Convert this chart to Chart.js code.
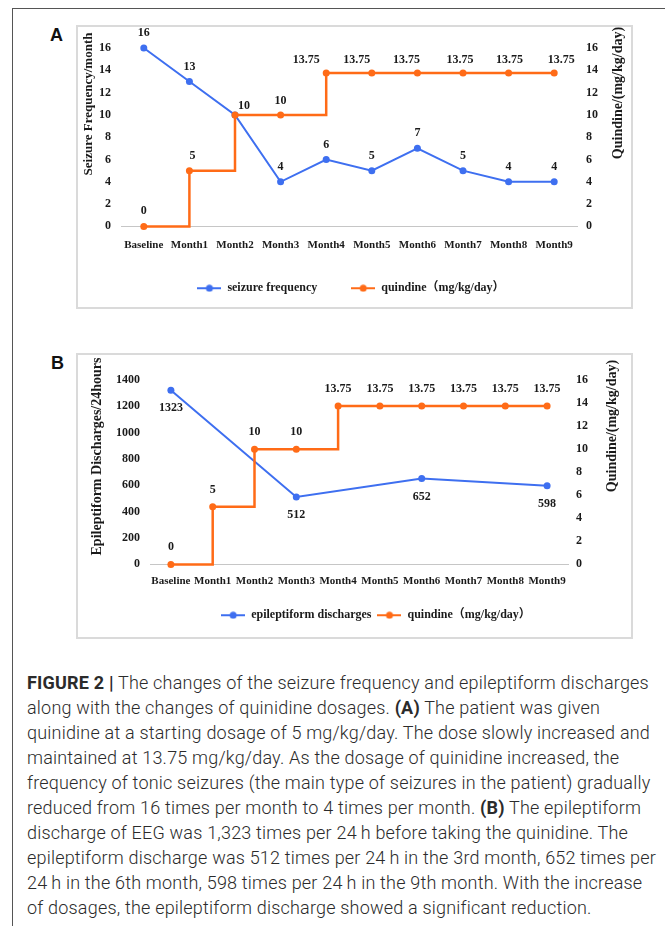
<!DOCTYPE html>
<html>
<head>
<meta charset="utf-8">
<script src="https://cdn.jsdelivr.net/npm/chart.js@4.4.1/dist/chart.umd.min.js"></script>
<style>
html,body{margin:0;padding:0;background:#fff;}
body{width:665px;height:926px;position:relative;overflow:hidden;}
#frame{position:absolute;left:12px;top:8px;width:700px;height:980px;border-left:1px solid #555;border-top:1px solid #555;}
.box{position:absolute;left:76px;width:557px;box-sizing:border-box;border:2px solid #dadada;}
#boxA{top:25px;height:284px;}
#boxB{top:353px;height:286px;}
canvas{position:absolute;left:78px;}
#chartA{top:27px;}
#chartB{top:355px;}
.panel{position:absolute;font:bold 18px "Liberation Sans",Arial,sans-serif;color:#111;line-height:18px;}
#caption{position:absolute;left:27px;top:670px;font-family:Roboto,"Liberation Sans",sans-serif;font-weight:300;font-size:18px;line-height:25px;letter-spacing:0.2px;color:#2b2b2b;white-space:nowrap;}
#caption b{font-weight:700;}
</style>
</head>
<body>
<div id="frame"></div>
<div class="box" id="boxA"></div>
<div class="box" id="boxB"></div>
<div class="panel" style="left:50px;top:26px;">A</div>
<div class="panel" style="left:51px;top:354px;">B</div>
<canvas id="chartA" width="552" height="279"></canvas>
<canvas id="chartB" width="552" height="281"></canvas>
<div id="caption"><b>FIGURE 2 |</b> The changes of the seizure frequency and epileptiform discharges<br>along with the changes of quinidine dosages. <b>(A)</b> The patient was given<br>quinidine at a starting dosage of 5 mg/kg/day. The dose slowly increased and<br>maintained at 13.75 mg/kg/day. As the dosage of quinidine increased, the<br>frequency of tonic seizures (the main type of seizures in the patient) gradually<br>reduced from 16 times per month to 4 times per month. <b>(B)</b> The epileptiform<br>discharge of EEG was 1,323 times per 24&thinsp;h before taking the quinidine. The<br>epileptiform discharge was 512 times per 24&thinsp;h in the 3rd month, 652 times per<br>24&thinsp;h in the 6th month, 598 times per 24&thinsp;h in the 9th month. With the increase<br>of dosages, the epileptiform discharge showed a significant reduction.</div>
<script>
// ---- data ----
const categories = ['Baseline','Month1','Month2','Month3','Month4','Month5','Month6','Month7','Month8','Month9'];
const seizureFrequency = [16,13,10,4,6,5,7,5,4,4];
const quinidineDose = [0,5,10,10,13.75,13.75,13.75,13.75,13.75,13.75];
const epileptiformDischarges = [1323,null,null,512,null,null,652,null,null,598];
const seizureTicks = [0,2,4,6,8,10,12,14,16];
const doseTicks = [0,2,4,6,8,10,12,14,16];
const dischargeTicks = [0,200,400,600,800,1000,1200,1400];

const BLUE = '#3E6FF0';
const ORANGE = '#FF6B17';
const TXT = '#1a1a1a';
const SERIF = '"Liberation Serif", "Times New Roman", "Noto Sans CJK SC", serif';

// ---- plugins ----
const valueLabels = {
  id: 'valueLabels',
  afterDatasetsDraw(chart, args, opts) {
    const ctx = chart.ctx;
    ctx.save();
    ctx.font = 'bold 12px ' + SERIF;
    ctx.fillStyle = TXT;
    ctx.textAlign = 'center';
    ctx.textBaseline = 'middle';
    chart.data.datasets.forEach((ds, di) => {
      const meta = chart.getDatasetMeta(di);
      const conf = opts.sets[di];
      meta.data.forEach((pt, i) => {
        const v = ds.data[i];
        if (v === null || v === undefined) return;
        if (conf.hide && conf.hide.indexOf(i) >= 0) return;
        const off = (conf.offsets && conf.offsets[i]) || [0, conf.dy];
        ctx.fillText(String(v), pt.x + off[0], pt.y + off[1]);
      });
    });
    ctx.restore();
  }
};

const axisTitles = {
  id: 'axisTitles',
  afterDraw(chart, args, opts) {
    const ctx = chart.ctx, ca = chart.chartArea;
    opts.items.forEach(t => {
      ctx.save();
      ctx.font = 'bold ' + t.size + 'px ' + SERIF;
      ctx.fillStyle = TXT;
      ctx.textAlign = 'center';
      ctx.textBaseline = 'middle';
      const x = (t.side === 'left' ? ca.left : ca.right) + t.dx;
      ctx.translate(x, ca.top + t.dy);
      ctx.rotate(-Math.PI / 2);
      ctx.fillText(t.text, 0, 0);
      ctx.restore();
    });
  }
};

const legendShift = {
  id: 'legendShift',
  afterLayout(chart, args, opts) {
    const l = chart.legend;
    if (l && opts.dx) { l.left += opts.dx; l.right += opts.dx; }
  }
};

function legendSymbol(color) {
  const c = document.createElement('canvas');
  c.width = 24; c.height = 8;
  const g = c.getContext('2d');
  g.strokeStyle = color; g.lineWidth = 2;
  g.beginPath(); g.moveTo(0, 4); g.lineTo(24, 4); g.stroke();
  g.fillStyle = color;
  g.beginPath(); g.arc(12, 4, 3.5, 0, Math.PI * 2); g.fill();
  return c;
}
const symbols = [legendSymbol(BLUE), legendSymbol(ORANGE)];

function yScale(position, ticks, pad, width, fontSize) {
  return {
    position: position,
    min: ticks[0],
    max: ticks[ticks.length - 1],
    afterBuildTicks: s => { s.ticks = ticks.map(v => ({ value: v })); },
    grid: { display: false, drawTicks: false },
    border: { display: false },
    ticks: { padding: pad, color: TXT, font: { family: SERIF, size: fontSize, weight: 'bold' },
             callback: v => String(v) },
    afterFit: s => { s.width = width; }
  };
}

function buildChart(id, o) {
  return new Chart(document.getElementById(id), {
    type: 'line',
    data: {
      labels: categories,
      datasets: [
        { label: o.label1, data: o.data1, yAxisID: 'yL', borderColor: BLUE, backgroundColor: BLUE,
          borderWidth: 2, pointRadius: 3.5, pointBorderWidth: 0, pointBackgroundColor: BLUE,
          spanGaps: true, tension: 0, clip: false },
        { label: 'quindine（mg/kg/day）', data: quinidineDose, yAxisID: 'yR', stepped: true,
          borderColor: ORANGE, backgroundColor: ORANGE, borderWidth: 2.5, pointRadius: 3.5,
          pointBorderWidth: 0, pointBackgroundColor: ORANGE, tension: 0, clip: false, order: -1 }
      ]
    },
    options: {
      responsive: false,
      animation: false,
      devicePixelRatio: 1,
      layout: { padding: { top: o.padTop, bottom: o.padBottom, left: 0, right: 0 } },
      scales: {
        x: {
          offset: true,
          grid: { display: false, drawTicks: false },
          border: { display: true, color: '#c6c6c6', width: 1 },
          ticks: { autoSkip: false, maxRotation: 0, minRotation: 0, padding: o.xPad, color: TXT,
                   font: { family: SERIF, size: 11, weight: 'bold' } },
          afterFit: s => { s.height = o.xH; }
        },
        yL: yScale('left', o.leftTicks, o.lPad, o.lW, 12),
        yR: yScale('right', doseTicks, o.rPad, o.rW, 12)
      },
      plugins: {
        tooltip: { enabled: false },
        legend: {
          position: 'bottom',
          labels: {
            usePointStyle: true,
            pointStyleWidth: 24,
            padding: o.legendPad,
            color: TXT,
            font: { family: SERIF, size: 12, weight: 'bold' },
            sort: (a, b) => a.datasetIndex - b.datasetIndex,
            generateLabels: chart => {
              const items = Chart.defaults.plugins.legend.labels.generateLabels(chart);
              items.forEach(it => { it.pointStyle = symbols[it.datasetIndex]; });
              return items;
            }
          }
        },
        valueLabels: { sets: o.labelSets },
        axisTitles: { items: o.titles },
        legendShift: { dx: o.legendDx }
      }
    },
    plugins: [valueLabels, axisTitles, legendShift]
  });
}

// Panel A
buildChart('chartA', {
  label1: 'seizure frequency',
  data1: seizureFrequency,
  leftTicks: seizureTicks,
  padTop: 21, padBottom: 1.8, xH: 21.8, xPad: 12.5,
  lPad: 10, lW: 43, rPad: 9, rW: 53,
  legendPad: 34, legendDx: -3,
  labelSets: [
    { dy: -15, hide: [2] },
    { dy: -14, offsets: { 0: [0, -15], 1: [3, -15], 2: [9, -9], 3: [0, -14],
                          4: [-20, -13], 5: [-15, -13], 6: [-11, -13], 7: [-3, -13], 8: [1, -13], 9: [7, -13] } }
  ],
  titles: [
    { side: 'left', dx: -32, dy: 56, size: 13, text: 'Seizure Frequency/month' },
    { side: 'right', dx: 41, dy: 45, size: 14, text: 'Quindine/(mg/kg/day)' }
  ]
});

// Panel B
buildChart('chartB', {
  label1: 'epileptiform discharges',
  data1: epileptiformDischarges,
  leftTicks: dischargeTicks,
  padTop: 25, padBottom: 4.8, xH: 38.8, xPad: 10.5,
  lPad: 10, lW: 72, rPad: 8, rW: 62,
  legendPad: 6, legendDx: 22,
  labelSets: [
    { dy: 18 },
    { dy: -17 }
  ],
  titles: [
    { side: 'left', dx: -53, dy: 76.5, size: 14, text: 'Epileptiform Discharges/24hours' },
    { side: 'right', dx: 44, dy: 46, size: 14, text: 'Quindine/(mg/kg/day)' }
  ]
});
</script>
</body>
</html>
